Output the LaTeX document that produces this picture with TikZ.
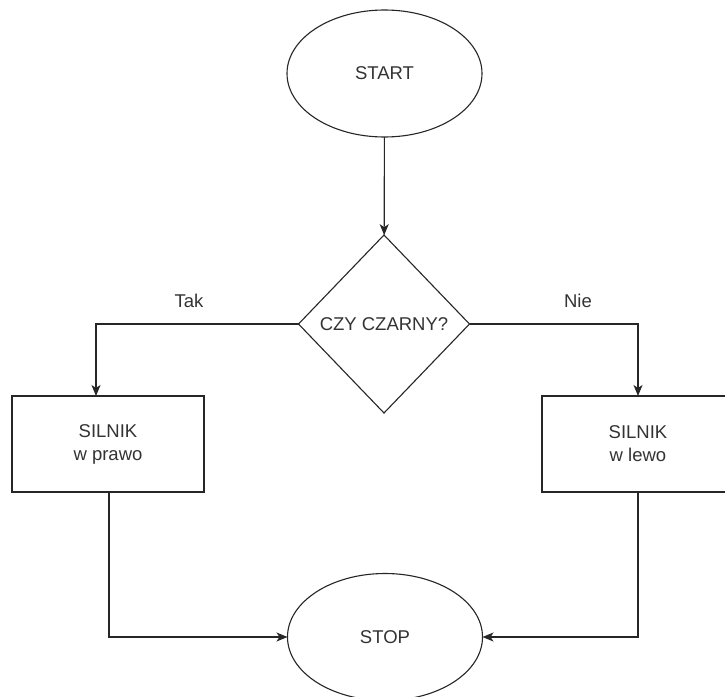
\documentclass[tikz,border=0pt]{standalone}
\usepackage{fontspec}
\setmainfont{Liberation Sans}
\usetikzlibrary{shapes.geometric,arrows.meta}
\begin{document}
\begin{tikzpicture}[x=1pt,y=-1pt,
  every node/.style={font=\fontsize{18.5}{23}\selectfont, text=black!80, align=center},
  shapebox/.style={draw=black!85, line width=1.1pt, fill=white, inner sep=0pt, outer sep=0pt},
  term/.style={shapebox, ellipse, minimum width=195pt, minimum height=127pt},
  decision/.style={shapebox, diamond, minimum width=171pt, minimum height=178pt},
  action/.style={shapebox, rectangle, minimum width=192pt, minimum height=96pt},
  lbl/.style={inner sep=0pt},
  conn/.style={draw=black!85, line width=1.1pt, -{Stealth[length=11pt,width=9pt,inset=3pt]}}
]
\useasboundingbox[fill=white] (0,0) rectangle (725,696);
\node[term] (start) at (384.5,73.5) {START};
\node[decision] (dec) at (384,324) {CZY CZARNY?};
\node[action] (left) at (108,444) {SILNIK\\w prawo};
\node[action] (right) at (638,444) {SILNIK\\w lewo};
\node[term] (stop) at (385,637) {STOP};
\node[lbl] (tak) at (189,301) {Tak};
\node[lbl] (nie) at (578,301) {Nie};
\draw[conn] (start) -- (dec);
\draw[conn] (dec.west) -| ([xshift=-12pt]left.north);
\draw[conn] (dec.east) -| (right.north);
\draw[conn] ([xshift=1pt]left.south) |- (stop.west);
\draw[conn] (right.south) |- (stop.east);
\end{tikzpicture}
\end{document}
